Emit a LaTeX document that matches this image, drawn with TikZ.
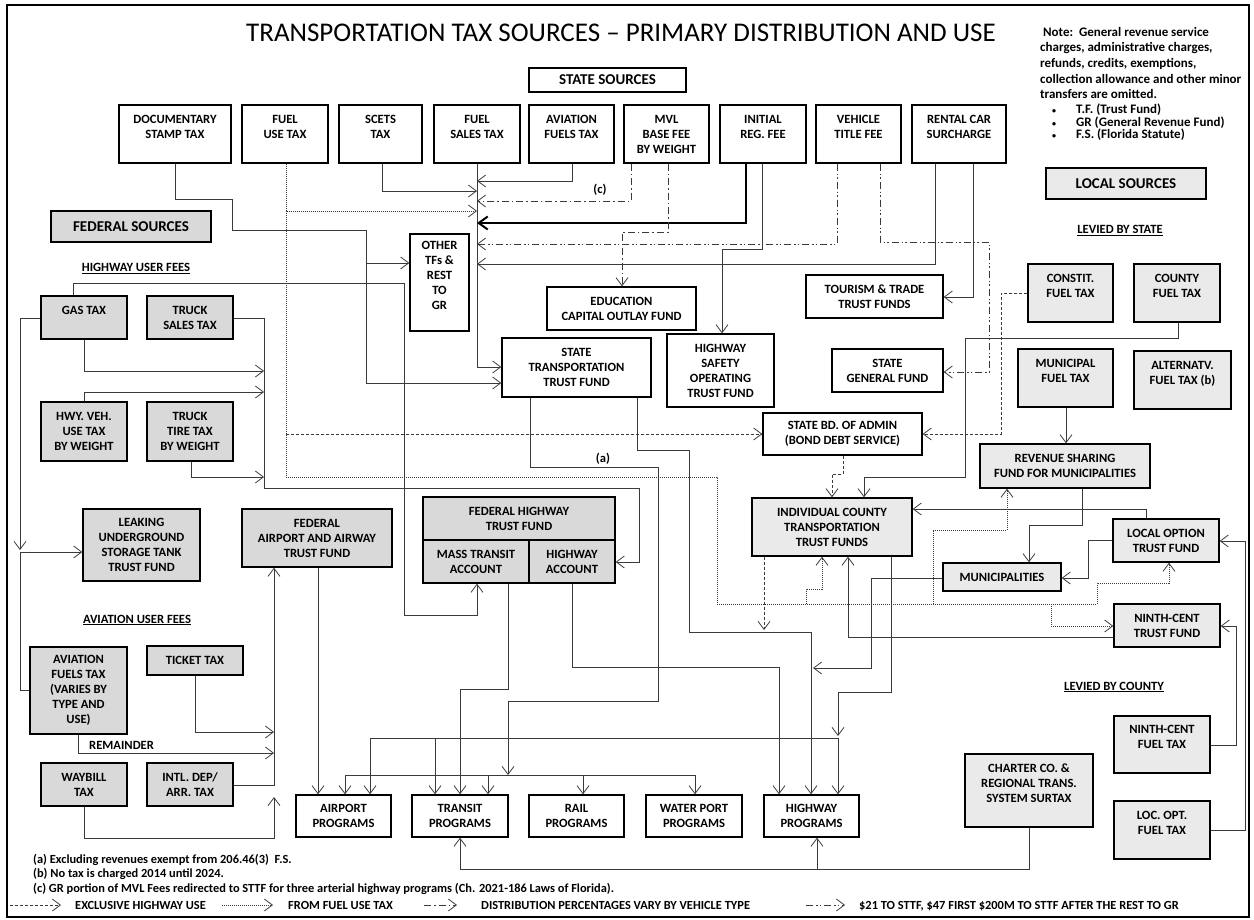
\documentclass[tikz,border=0pt]{standalone}
\usepackage{fontspec}
\setmainfont{Carlito}
\usetikzlibrary{arrows.meta}
\definecolor{fedgray}{HTML}{D9D9D9}
\definecolor{locgray}{HTML}{EAEAEA}
\definecolor{wirecol}{HTML}{3A3A3A}

% one box: name, style, left, top, right, bottom, text
\newcommand\boxnode[7]{\node[#2, minimum width={(#5)-(#3)}, minimum height={(#6)-(#4)}] (#1) at ({((#3)+(#5))/2},{((#4)+(#6))/2}) {#7};}
\newcommand\smallbullet{\makebox[24pt][l]{\fontsize{8}{8}\selectfont\textbullet}}

\tikzset{
  box/.style={draw=black, line width=1.4pt, rectangle, inner sep=0pt, align=center,
              font=\bfseries\fontsize{12.6}{15}\selectfont},
  stbox/.style={box, fill=white},
  fedbox/.style={box, fill=fedgray},
  locbox/.style={box, fill=locgray},
  headbox/.style={font=\bfseries\fontsize{15}{18}\selectfont},
  wire/.style={draw=wirecol, line width=0.8pt},
  arr/.style={wire, -{Straight Barb[length=8pt,width=12pt]}},
  bus/.style={wire, {Straight Barb[length=8pt,width=12pt]}-{Straight Barb[length=8pt,width=12pt]}},
  hwyuse/.style={dash pattern=on 3pt off 2pt},
  fueluse/.style={dash pattern=on 1pt off 1pt},
  vehtype/.style={dash pattern=on 7pt off 3pt on 1.5pt off 3pt},
  feesplit/.style={dash pattern=on 7pt off 3pt on 1.5pt off 2pt on 1.5pt off 3pt},
  lbl/.style={font=\bfseries\fontsize{12.6}{15}\selectfont, inner sep=0pt},
  small/.style={font=\bfseries\fontsize{12.4}{14.5}\selectfont, inner sep=0pt},
}

\begin{document}
\begin{tikzpicture}[x=1pt,y=-1pt]
\useasboundingbox (0,0) rectangle (1254,920);
\draw[line width=1.6pt] (7,5) rectangle (1249,917);

% ---------- headings and notes ----------
\node[font=\fontsize{27}{30}\selectfont, inner sep=0pt] (title) at (621,33)
  {TRANSPORTATION TAX SOURCES – PRIMARY DISTRIBUTION AND USE};
\node[font=\bfseries\fontsize{13}{15.6}\selectfont, inner sep=0pt, anchor=north west, align=left] (note) at (1040,27)
  {\ Note:\ \ General revenue service\\charges, administrative charges,\\refunds, credits, exemptions,\\collection allowance and other minor\\transfers are omitted.};
\node[font=\bfseries\fontsize{13}{12.5}\selectfont, inner sep=0pt, anchor=north west, align=left] (bullets) at (1052,104)
  {\smallbullet T.F. (Trust Fund)\\\smallbullet GR (General Revenue Fund)\\\smallbullet F.S. (Florida Statute)};

% ---------- state sources ----------
\boxnode{ss}{stbox,headbox}{529}{68}{686}{92}{STATE SOURCES}
\boxnode{doc}{stbox}{119}{105}{231}{163}{DOCUMENTARY\\STAMP TAX\\\mbox{}}
\boxnode{fut}{stbox}{242}{105}{328}{163}{FUEL\\USE TAX\\\mbox{}}
\boxnode{scets}{stbox}{339}{105}{422}{163}{SCETS\\TAX\\\mbox{}}
\boxnode{fst}{stbox}{434}{105}{520}{163}{FUEL\\SALES TAX\\\mbox{}}
\boxnode{aft}{stbox}{529}{105}{614}{163}{AVIATION\\FUELS TAX\\\mbox{}}
\boxnode{mvl}{stbox}{624}{105}{709}{163}{MVL\\BASE FEE\\BY WEIGHT}
\boxnode{irf}{stbox}{720}{105}{806}{163}{INITIAL\\REG. FEE\\\mbox{}}
\boxnode{vtf}{stbox}{816}{105}{901}{163}{VEHICLE\\TITLE FEE\\\mbox{}}
\boxnode{rcs}{stbox}{912}{105}{1006}{163}{RENTAL CAR\\SURCHARGE\\\mbox{}}

\boxnode{other}{stbox}{410}{234}{469}{331}{OTHER\\TFs \&\\REST\\TO\\GR\\\mbox{}}
\boxnode{ecof}{stbox}{547}{287}{696}{330}{EDUCATION\\CAPITAL OUTLAY FUND}
\boxnode{sttf}{stbox}{502}{338}{651}{397}{STATE\\TRANSPORTATION\\TRUST FUND}
\boxnode{hsotf}{stbox}{667}{334}{774}{407}{HIGHWAY\\SAFETY\\OPERATING\\TRUST FUND}
\boxnode{ttf}{stbox}{806}{275}{943}{318}{TOURISM \& TRADE\\TRUST FUNDS}
\boxnode{sgf}{stbox}{832}{349}{943}{392}{STATE\\GENERAL FUND}
\boxnode{sba}{stbox}{763}{413}{922}{455}{STATE BD. OF ADMIN\\(BOND DEBT SERVICE)}

% ---------- federal sources ----------
\boxnode{fedsrc}{fedbox,headbox}{51}{211}{211}{242}{FEDERAL SOURCES}
\node[lbl, anchor=base] (hwyfees) at (136,272) {\underline{HIGHWAY USER FEES}};
\boxnode{gas}{fedbox}{41}{296}{127}{339}{GAS TAX\\\mbox{}}
\boxnode{tst}{fedbox}{147}{296}{233}{339}{TRUCK\\SALES TAX}
\boxnode{hvut}{fedbox}{41}{402}{127}{461}{HWY. VEH.\\USE TAX\\BY WEIGHT}
\boxnode{ttt}{fedbox}{147}{402}{233}{461}{TRUCK\\TIRE TAX\\BY WEIGHT}
\boxnode{lust}{fedbox}{83}{509}{200}{581}{LEAKING\\UNDERGROUND\\STORAGE TANK\\TRUST FUND}
\boxnode{faa}{fedbox}{242}{509}{392}{567}{FEDERAL\\AIRPORT AND AIRWAY\\TRUST FUND}
\boxnode{fhtf}{fedbox}{423}{497}{615}{540}{FEDERAL HIGHWAY\\TRUST FUND}
\boxnode{mta}{fedbox}{423}{540}{529}{583}{MASS TRANSIT\\ACCOUNT}
\boxnode{hwa}{fedbox}{529}{540}{615}{583}{HIGHWAY\\ACCOUNT}
\node[lbl, anchor=base] (avfees) at (137,623) {\underline{AVIATION USER FEES}};
\boxnode{avft}{fedbox}{30}{647}{127}{734}{AVIATION\\FUELS TAX\\(VARIES BY\\TYPE AND\\USE)}
\boxnode{tkt}{fedbox}{147}{646}{243}{675}{TICKET TAX}
\boxnode{wbt}{fedbox}{41}{763}{127}{806}{WAYBILL\\TAX}
\boxnode{intl}{fedbox}{147}{763}{233}{806}{INTL. DEP/\\ARR. TAX}

% ---------- local sources ----------
\boxnode{locsrc}{locbox,headbox}{1046}{168}{1206}{199}{LOCAL SOURCES}
\node[lbl, anchor=base] (bystate) at (1120,234) {\underline{LEVIED BY STATE}};
\boxnode{constit}{locbox}{1028}{264}{1113}{322}{CONSTIT.\\FUEL TAX\\\mbox{}}
\boxnode{cft}{locbox}{1134}{264}{1220}{322}{COUNTY\\FUEL TAX\\\mbox{}}
\boxnode{mft}{locbox}{1018}{349}{1113}{407}{MUNICIPAL\\FUEL TAX\\\mbox{}}
\boxnode{altft}{locbox}{1134}{351}{1231}{409}{ALTERNATV.\\FUEL TAX (b)\\\mbox{}}
\boxnode{rsf}{locbox}{980}{444}{1150}{488}{REVENUE SHARING\\FUND FOR MUNICIPALITIES}
\boxnode{ic}{locbox}{752}{498}{912}{556}{INDIVIDUAL COUNTY\\TRANSPORTATION\\TRUST FUNDS}
\boxnode{lot}{locbox}{1113}{519}{1219}{562}{LOCAL OPTION\\TRUST FUND}
\boxnode{muni}{locbox}{943}{563}{1061}{591}{MUNICIPALITIES}
\boxnode{ntf}{locbox}{1114}{604}{1220}{647}{NINTH-CENT\\TRUST FUND}
\node[lbl, anchor=base] (bycounty) at (1114,690) {\underline{LEVIED BY COUNTY}};
\boxnode{ncft}{locbox}{1114}{716}{1210}{773}{NINTH-CENT\\FUEL TAX\\\mbox{}}
\boxnode{loft}{locbox}{1114}{801}{1210}{859}{LOC. OPT.\\FUEL TAX\\\mbox{}}
\boxnode{charter}{locbox}{965}{754}{1093}{827}{CHARTER CO. \&\\REGIONAL TRANS.\\SYSTEM SURTAX\\\mbox{}}

% ---------- programs ----------
\boxnode{ap}{stbox}{296}{795}{391}{837}{AIRPORT\\PROGRAMS}
\boxnode{tp}{stbox}{412}{795}{508}{837}{TRANSIT\\PROGRAMS}
\boxnode{rp}{stbox}{529}{795}{624}{837}{RAIL\\PROGRAMS}
\boxnode{wp}{stbox}{646}{795}{742}{837}{WATER PORT\\PROGRAMS}
\boxnode{hp}{stbox}{764}{795}{859}{837}{HIGHWAY\\PROGRAMS}

% ---------- state flows ----------
\draw[arr] (175,0 |- doc.south) -- (175,199) -- (232,199) -- (232,230) -- (366,230) -- (366,383) -- (sttf.west |- 0,383);
\coordinate (docj) at (366,263);
\draw[arr] (docj) -- (other.west |- docj);
\draw[arr] (fst.south) -- (fst.south |- 0,367) -- (sttf.west |- 0,367);
\draw[arr] (382,0 |- scets.south) -- (382,191) -- (fst.south |- 0,191);
\draw[arr] (572,0 |- aft.south) -- (572,181) -- (fst.south |- 0,181);
\draw[arr,vehtype] (631,0 |- mvl.south) -- (631,201) -- (fst.south |- 0,201);
\node[lbl] (cmark) at (600,190) {(c)};
\draw[arr,fueluse] (286,0 |- fut.south) -- (286,211) -- (fst.south |- 0,211);
\coordinate (fuj) at (286,211);
\draw[arr,fueluse] (fuj) -- (286,477) -- (717,477) -- (717,604) -- (1097,604) -- (1097,583) -- (1169,583) -- (1169,0 |- lot.south);
\coordinate (fuk) at (286,434);
\draw[arr,hwyuse] (fuk) -- (sba.west |- fuk);
\coordinate (fu1) at (806,604);
\draw[arr,fueluse] (fu1) -- (806,589) -- (822,589) -- (822,0 |- ic.south);
\coordinate (fu2) at (933,604);
\draw[arr,fueluse] (fu2) -- (933,530) -- (1007,530) -- (1007,0 |- rsf.south);
\coordinate (fu3) at (1051,604);
\draw[arr,fueluse] (fu3) -- (1051,626) -- (ntf.west |- 0,626);
\draw[draw=black, line width=2pt, -{Straight Barb[length=9pt,width=13pt]}] (746,0 |- irf.south) -- (746,223) -- (fst.south |- 0,223);
\draw[arr] (762,0 |- irf.south) -- (762,249) -- (722,249) -- (722,0 |- hsotf.north);
\draw[arr,vehtype] (668,0 |- mvl.south) -- (668,232) -- (622,232) -- (622,0 |- ecof.north);
\draw[arr,feesplit] (837,0 |- vtf.south) -- (837,244) -- (fst.south |- 0,244);
\draw[arr,feesplit] (880,0 |- vtf.south) -- (880,242) -- (989,242) -- (989,372) -- (sgf.east |- 0,372);
\draw[arr] (935,0 |- rcs.south) -- (935,264) -- (fst.south |- 0,264);
\draw[arr] (973,0 |- rcs.south) -- (973,297) -- (ttf.east |- 0,297);

\draw[arr] (530,0 |- sttf.south) -- (530,467) -- (658,467) -- (658,701) -- (508,701) -- (508,775);
\node[lbl] (amark) at (603,459) {(a)};
\draw[arr] (637,0 |- sttf.south) -- (637,450) -- (689,450) -- (689,632) -- (811,632) -- (811,0 |- hp.north);

% ---------- federal flows ----------
\draw[arr] (73,0 |- gas.north) -- (73,283) -- (404,283) -- (404,615) -- (477,615) -- (477,0 |- mta.south);
\draw[arr] (gas.west |- 0,318) -- (20,318) -- (20,550);
\draw[arr] (avft.west |- 0,690) -- (20,690) -- (20,552) -- (lust.west |- 0,552);
\draw[arr] (tst.east |- 0,318) -- (264,318) -- (264,488) -- (639,488) -- (639,562) -- (hwa.east |- 0,562);
\draw[arr] (84,0 |- gas.south) -- (84,371) -- (264,371);
\draw[arr] (84,0 |- hvut.north) -- (84,392) -- (264,392);
\draw[arr] (191,0 |- ttt.south) -- (191,477) -- (264,477);
\draw[arr] (318,0 |- faa.south) -- (318,0 |- ap.north);
\draw[arr] (195,0 |- tkt.south) -- (195,732) -- (274,732);
\draw[arr] (78,0 |- avft.south) -- (78,753) -- (274,753);
\node[lbl, anchor=base west] (remainder) at (89,749) {REMAINDER};
\draw[arr] (intl.east |- 0,785) -- (274,785) -- (274,0 |- faa.south);
\draw[arr] (84,0 |- wbt.south) -- (84,838) -- (274,838) -- (274,797);
\draw[arr] (508,0 |- mta.south) -- (508,689) -- (460,689) -- (460,0 |- tp.north);
\draw[arr] (572,0 |- hwa.south) -- (572,667) -- (779,667) -- (779,0 |- hp.north);

% ---------- program distribution ----------
\draw[bus] (370,0 |- ap.north) -- (370,738) -- (838,738) -- (838,0 |- hp.north);
\coordinate (b1) at (435,738);
\draw[arr] (b1) -- (b1 |- tp.north);
\draw[arr] (891,0 |- ic.south) -- (891,692) -- (838,692) -- (838,736);
\draw[bus] (345,0 |- ap.north) -- (345,775) -- (695,775) -- (695,0 |- wp.north);
\coordinate (b2) at (488,775);
\draw[arr] (b2) -- (b2 |- tp.north);
\coordinate (b3) at (583,775);
\draw[arr] (b3) -- (b3 |- rp.north);

% ---------- local flows ----------
\draw[arr,hwyuse] (764,0 |- ic.south) -- (764,630);
\draw[arr] (1066,0 |- mft.south) -- (1066,0 |- rsf.north);
\draw[arr] (1082,0 |- rsf.south) -- (1082,525) -- (1029,525) -- (1029,0 |- muni.north);
\draw[arr] (lot.west |- 0,540) -- (1088,540) -- (1088,578) -- (muni.east |- 0,578);
\draw[arr] (muni.west |- 0,578) -- (871,578) -- (871,668) -- (813,668);
\draw[arr] (1146,0 |- lot.north) -- (1146,509) -- (ic.east |- 0,509);
\draw[arr] (ntf.west |- 0,637) -- (848,637) -- (848,0 |- ic.south);
\draw[arr] (ncft.east |- 0,745) -- (1236,745) -- (1236,626) -- (ntf.east |- 0,626);
\draw[arr] (loft.east |- 0,830) -- (1245,830) -- (1245,541) -- (lot.east |- 0,541);
\draw[arr] (1029,0 |- charter.south) -- (1029,869) -- (460,869) -- (460,0 |- tp.south);
\coordinate (chj) at (817,869);
\draw[arr] (chj) -- (chj |- hp.south);
\draw[arr] (1178,0 |- cft.south) -- (1178,338) -- (965,338) -- (965,477) -- (864,477) -- (864,0 |- ic.north);
\draw[arr,hwyuse] (constit.west |- 0,293) -- (1001,293) -- (1001,434) -- (sba.east |- 0,434);
\draw[arr,hwyuse] (843,0 |- sba.south) -- (843,474) -- (832,474) -- (832,0 |- ic.north);

% ---------- footnotes ----------
\node[small, anchor=base west] (fna) at (33,863) {(a) Excluding revenues exempt from 206.46(3)\ \ F.S.};
\node[small, anchor=base west] (fnb) at (33,877) {(b) No tax is charged 2014 until 2024.};
\node[small, anchor=base west] (fnc) at (33,892) {(c) GR portion of MVL Fees redirected to STTF for three arterial highway programs (Ch. 2021-186 Laws of Florida).};

% ---------- legend ----------
\coordinate (lg1a) at (10,905); \coordinate (lg1b) at (61,905);
\draw[arr,hwyuse] (lg1a) -- (lg1b);
\node[small, anchor=base west] (lg1) at (75,909) {EXCLUSIVE HIGHWAY USE};
\coordinate (lg2a) at (222,905); \coordinate (lg2b) at (273,905);
\draw[arr,fueluse] (lg2a) -- (lg2b);
\node[small, anchor=base west] (lg2) at (288,909) {FROM FUEL USE TAX};
\coordinate (lg3a) at (424,905); \coordinate (lg3b) at (457,905);
\draw[arr,vehtype] (lg3a) -- (lg3b);
\node[small, anchor=base west] (lg3) at (481,909) {DISTRIBUTION PERCENTAGES VARY BY VEHICLE TYPE};
\coordinate (lg4a) at (806,905); \coordinate (lg4b) at (845,905);
\draw[arr,feesplit] (lg4a) -- (lg4b);
\node[small, anchor=base west] (lg4) at (859,909) {\$21 TO STTF, \$47 FIRST \$200M TO STTF AFTER THE REST TO GR};
\end{tikzpicture}
\end{document}
